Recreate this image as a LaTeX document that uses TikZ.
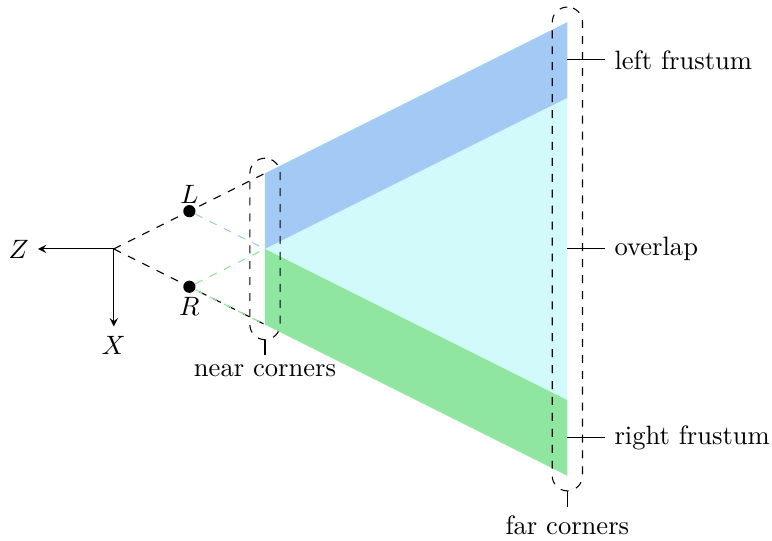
\documentclass[tikz,border=0pt]{standalone}
\usepackage{amsmath}
\usetikzlibrary{positioning}
\definecolor{leftblue}{HTML}{A3C9F5}
\definecolor{rightgreen}{HTML}{8FE6A0}
\definecolor{overlapcyan}{HTML}{D3FAFB}

\begin{document}
\begin{tikzpicture}[
                eye/.style={circle, fill=black, inner sep=0pt, minimum size=4.6pt},
                cornerbox/.style={rectangle, draw, dashed, rounded corners=0.2cm, minimum width=0.4cm, inner sep=0pt},
                arr/.style={-stealth},
            ]
            \useasboundingbox (-1.505,-3.863) rectangle (8.707,3.293);
            \coordinate (o) at (0,0);
            \coordinate (nt) at (2,1);
            \coordinate (nc) at (2,0);
            \coordinate (nb) at (2,-1);
            \coordinate (ft) at (6,3);
            \coordinate (fl) at (6,2);
            \coordinate (fr) at (6,-2);
            \coordinate (fb) at (6,-3);
            \fill[overlapcyan] (nc) -- (fl) -- (fr) -- cycle;
            \fill[leftblue] (nt) -- (ft) -- (fl) -- (nc) -- cycle;
            \fill[rightgreen] (nc) -- (fr) -- (fb) -- (nb) -- cycle;
            \node[eye, label={[label distance=-3.2pt]above:$L$}] (left) at (1,0.5) {};
            \node[eye, label={[label distance=-2pt]below:$R$}] (right) at (1,-0.5) {};
            \node (zaxis) at (-1.26,0) {$Z$};
            \node (xaxis) at (0,-1.27) {$X$};
            \draw[arr] (o) -- (zaxis);
            \draw[arr] (o) -- (xaxis);
            \draw[dashed] (o) -- (nt);
            \draw[dashed] (o) -- (nb);
            \draw[dashed, leftblue] (left) -- (nc);
            \draw[dashed, rightgreen] (right) -- (nc);
            \draw[dashed, rightgreen] (right) -- (nb);
            \node[cornerbox, minimum height=2.4cm] (near) at (2,0) {};
            \node[cornerbox, minimum height=6.4cm] (far) at (6,0) {};
            \node[below=0.2cm of near] (neartext) {near corners};
            \node[below=0.2cm of far] (fartext) {far corners};
            \draw (near.south) -- (neartext.north);
            \draw (far.south) -- (fartext.north);
            \coordinate (lm) at (6,2.5);
            \coordinate (om) at (6,0);
            \coordinate (rm) at (6,-2.5);
            \node[right] (leftlabel) at (6.5,2.5) {left frustum};
            \node[right] (overlaplabel) at (6.5,0) {overlap};
            \node[right] (rightlabel) at (6.5,-2.5) {right frustum};
            \draw (lm) -- (leftlabel);
            \draw (om) -- (overlaplabel);
            \draw (rm) -- (rightlabel);
        \end{tikzpicture}
\end{document}
